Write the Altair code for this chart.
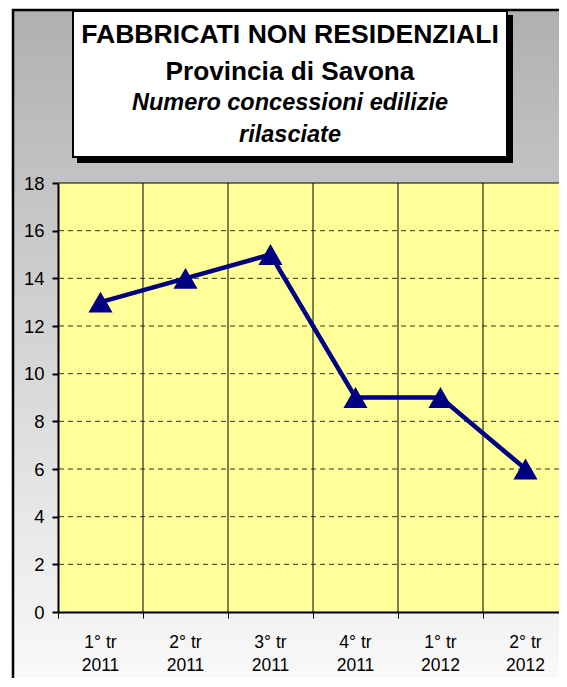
import altair as alt
import pandas as pd

# ---- data ----
quarters = ["1° tr", "2° tr", "3° tr", "4° tr", "1° tr", "2° tr"]
years = ["2011", "2011", "2011", "2011", "2012", "2012"]
values = [13, 14, 15, 9, 9, 6]
y_ticks = [0, 2, 4, 6, 8, 10, 12, 14, 16, 18]
x_bounds = [0, 1, 2, 3, 4, 5]
title_lines = [
    "FABBRICATI NON RESIDENZIALI",
    "Provincia di Savona",
    "Numero concessioni edilizie",
    "rilasciate",
]

BAND = 85          # px per category in the reference
W, H = 501, 429    # plot area visible inside the window (right side is cut off)
X_MAX = W / BAND   # visible part of the category axis
FONT = "Liberation Sans"

df = pd.DataFrame({
    "pos": [i + 0.5 for i in range(len(values))],
    "value": values,
    "q": quarters,
    "yr": years,
})
one = pd.DataFrame({"k": [0]})
plot_box = pd.DataFrame({"x0": [0], "x1": [X_MAX], "y0": [y_ticks[0]], "y1": [y_ticks[-1]]})
hgrid = pd.DataFrame({"v": y_ticks[1:-1]})
vgrid = pd.DataFrame({"v": x_bounds[1:]})
top = pd.DataFrame({"v": [y_ticks[-1]]})

xscale = alt.Scale(domain=[0, X_MAX], nice=False, zero=False)
yscale = alt.Scale(domain=[y_ticks[0], y_ticks[-1]], nice=False, zero=False)

xaxis = alt.Axis(title=None, values=x_bounds, labels=False, ticks=True, tickSize=6,
                 tickColor="black", tickWidth=1, domainColor="black", domainWidth=2,
                 grid=False, zindex=1)
yaxis = alt.Axis(title=None, values=y_ticks, ticks=True, tickSize=6, tickWidth=2,
                 tickColor="black", domainColor="black", domainWidth=2,
                 labelFontSize=18.5, labelFont=FONT, labelColor="black", labelPadding=8,
                 grid=False, zindex=1)


def X(f):
    return alt.X(f"{f}:Q", scale=xscale, axis=xaxis)


def Y(f):
    return alt.Y(f"{f}:Q", scale=yscale, axis=yaxis)


gradient = {
    "gradient": "linear",
    "x1": 0, "x2": 0, "y1": 0, "y2": 1,
    "stops": [
        {"offset": 0, "color": "#b0b0b0"},
        {"offset": 1, "color": "#ffffff"},
    ],
}

frame = alt.Chart(one).mark_rect(fill=gradient, stroke="black", strokeWidth=2.5).encode(
    x=alt.value(-45), x2=alt.value(W + 60), y=alt.value(-173), y2=alt.value(H + 120)
)

plot_bg = alt.Chart(plot_box).mark_rect(fill="#FFFF99").encode(
    x=X("x0"), x2="x1", y=Y("y0"), y2="y1"
)

hg = alt.Chart(hgrid).mark_rule(color="#333333", strokeWidth=1, strokeDash=[5, 4]).encode(y=Y("v"))
vg = alt.Chart(vgrid).mark_rule(color="black", strokeWidth=1).encode(x=X("v"))
tb = alt.Chart(top).mark_rule(color="black", strokeWidth=1).encode(y=Y("v"))

shadow = alt.Chart(one).mark_rect(fill="black").encode(
    x=alt.value(19), x2=alt.value(455), y=alt.value(-168), y2=alt.value(-20)
)
box = alt.Chart(one).mark_rect(fill="white", stroke="black", strokeWidth=2).encode(
    x=alt.value(15), x2=alt.value(449), y=alt.value(-172), y2=alt.value(-26)
)

cx = 232
t1 = alt.Chart(one).mark_text(font=FONT, fontSize=26.6, fontWeight="bold", color="black",
                              baseline="alphabetic", align="center").encode(
    x=alt.value(cx), y=alt.value(-140.5), text=alt.value(title_lines[0]))
t2 = alt.Chart(one).mark_text(font=FONT, fontSize=26.2, fontWeight="bold", color="black",
                              baseline="alphabetic", align="center").encode(
    x=alt.value(cx), y=alt.value(-103), text=alt.value(title_lines[1]))
t3 = alt.Chart(one).mark_text(font=FONT, fontSize=23.5, fontWeight="bold", fontStyle="italic",
                              color="black", baseline="alphabetic", align="center").encode(
    x=alt.value(cx), y=alt.value(-73), text=alt.value(title_lines[2]))
t4 = alt.Chart(one).mark_text(font=FONT, fontSize=23.5, fontWeight="bold", fontStyle="italic",
                              color="black", baseline="alphabetic", align="center").encode(
    x=alt.value(cx), y=alt.value(-41), text=alt.value(title_lines[3]))

line = alt.Chart(df).mark_line(color="#000080", strokeWidth=4.5).encode(x=X("pos"), y=Y("value"))
pts = alt.Chart(df).mark_point(shape="triangle-up", size=580, filled=True, color="#000080",
                               opacity=1).encode(x=X("pos"), y=Y("value"))

xl1 = alt.Chart(df).mark_text(font=FONT, fontSize=17.5, color="black", baseline="middle").encode(
    x=X("pos"), y=alt.value(H + 31), text="q:N")
xl2 = alt.Chart(df).mark_text(font=FONT, fontSize=17.5, color="black", baseline="middle").encode(
    x=X("pos"), y=alt.value(H + 53.5), text="yr:N")

chart = alt.layer(
    frame, plot_bg, hg, vg, tb, shadow, box, t1, t2, t3, t4, line, pts, xl1, xl2
).properties(
    width=W, height=H,
    padding={"left": 50, "top": 175, "right": 0, "bottom": 66},
    autosize=alt.AutoSizeParams(type="none"),
).configure_view(stroke=None).configure(background="white")

chart.save("out.html", embed_options={"renderer": "svg", "actions": False})
